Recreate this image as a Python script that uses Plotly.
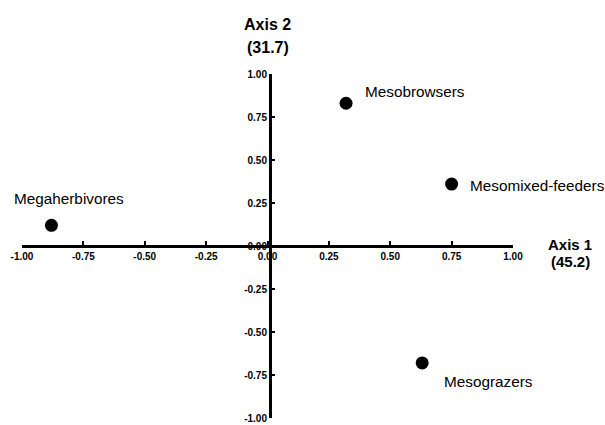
import plotly.graph_objects as go

groups = ["Megaherbivores", "Mesobrowsers", "Mesomixed-feeders", "Mesograzers"]
axis1 = [-0.88, 0.32, 0.75, 0.63]
axis2 = [0.12, 0.83, 0.36, -0.68]
tick_vals = [-1.0, -0.75, -0.5, -0.25, 0.0, 0.25, 0.5, 0.75, 1.0]
tick_text = ["-1.00", "-0.75", "-0.50", "-0.25", "0.00", "0.25", "0.50", "0.75", "1.00"]
axis1_title = ["Axis 1", "(45.2)"]
axis2_title = ["Axis 2", "(31.7)"]

# label offsets (pixels) per group: (xshift, yshift)
offsets = [(-39, 27), (17, 12), (16, -1), (20, -19)]

fig = go.Figure()
fig.add_trace(go.Scatter(
    x=axis1, y=axis2, mode="markers",
    marker=dict(size=13, color="black"),
    hoverinfo="text", text=groups, showlegend=False,
))

for g, x, y, (dx, dy) in zip(groups, axis1, axis2, offsets):
    fig.add_annotation(x=x, y=y, text=g, showarrow=False, xanchor="left", yanchor="middle",
                       xshift=dx, yshift=dy,
                       font=dict(family="Liberation Sans, Arial", size=15.3, color="black"))

tickfont = dict(family="Liberation Sans, Arial", size=10, color="black", weight="bold")

fig.update_xaxes(
    range=[-1, 1], anchor="free", position=0.5, showgrid=False, zeroline=False,
    showline=True, linewidth=3, linecolor="black", automargin=False,
    ticks="inside", ticklen=4, tickwidth=2, tickcolor="black",
    tickvals=tick_vals, ticktext=tick_text, tickfont=tickfont, ticklabeloverflow="allow",
)
fig.update_yaxes(
    range=[-1, 1], anchor="free", position=0.505, showgrid=False, zeroline=False,
    showline=True, linewidth=3, linecolor="black", automargin=False,
    ticks="inside", ticklen=3, tickwidth=2, tickcolor="black",
    tickvals=tick_vals, ticktext=tick_text, tickfont=tickfont, ticklabeloverflow="allow",
)

titlefont = dict(family="Liberation Sans, Arial", size=16, color="black", weight="bold")
titlefont1 = dict(family="Liberation Sans, Arial", size=15, color="black", weight="bold")
fig.add_annotation(x=0, xref="x", y=1, yref="paper", yanchor="middle", xanchor="center",
                   yshift=50, text=axis2_title[0], showarrow=False, font=titlefont)
fig.add_annotation(x=0, xref="x", y=1, yref="paper", yanchor="middle", xanchor="center",
                   yshift=27, text=axis2_title[1], showarrow=False, font=titlefont)

fig.add_annotation(x=1, xref="x", y=0, yref="y", xanchor="center", yanchor="middle",
                   xshift=57, yshift=2, text=axis1_title[0], showarrow=False, font=titlefont1)
fig.add_annotation(x=1, xref="x", y=0, yref="y", xanchor="center", yanchor="middle",
                   xshift=57, yshift=-15, text=axis1_title[1], showarrow=False, font=titlefont1)

fig.update_layout(
    width=605, height=425,
    margin=dict(l=22, r=92, t=74, b=7, autoexpand=False),
    plot_bgcolor="white", paper_bgcolor="white",
)

fig.write_html("out.html", config={"displayModeBar": False},
               post_script="document.body.style.margin='0';document.body.style.overflow='hidden';")
